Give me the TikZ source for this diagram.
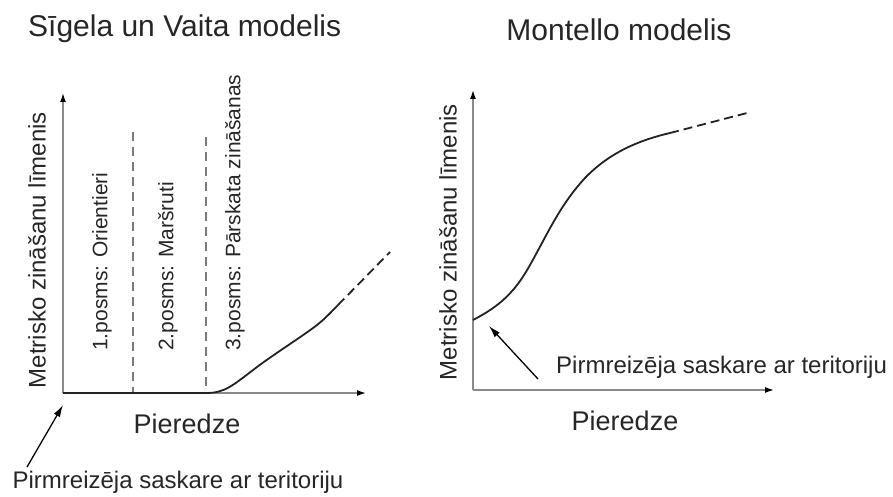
\documentclass[tikz,border=0pt]{standalone}
\usepackage{fontspec}
\setmainfont{Liberation Sans}
\usetikzlibrary{arrows.meta}
\definecolor{txt}{HTML}{262626}
\definecolor{axisgray}{HTML}{8A8A8A}
\definecolor{stagegray}{HTML}{7A7A7A}
\definecolor{curvec}{HTML}{222222}
\begin{document}
\begin{tikzpicture}[x=1pt,y=-1pt,
  titletxt/.style={text=txt,inner sep=0pt,font=\fontsize{30}{32}\selectfont},
  bigtxt/.style={text=txt,inner sep=0pt,font=\fontsize{27}{29}\selectfont},
  lbltxt/.style={text=txt,inner sep=0pt,font=\fontsize{24}{26}\selectfont},
  stagetxt/.style={text=txt,inner sep=0pt,font=\fontsize{21}{23}\selectfont},
  axisline/.style={draw=axisgray,line width=1.4pt,-{Latex[length=9pt,width=6pt,color=black]}},
  stageline/.style={draw=stagegray,line width=1.1pt,dash pattern=on 9pt off 6pt},
  curveline/.style={draw=curvec,line width=1.8pt},
  curvedash/.style={draw=curvec,line width=1.8pt,dash pattern=on 9pt off 5pt},
  pointer/.style={draw=black,line width=1.3pt,-{Latex[length=12pt,width=7pt]}}]
\useasboundingbox (0,0) rectangle (893,497);
% ---------- left: Sigela un Vaita ----------
\node[titletxt,anchor=base west] (t1) at (28,37) {Sīgela un Vaita modelis};
\coordinate (o1) at (63,393);
\coordinate (y1) at (63,93);
\coordinate (x1) at (366,393);
\draw[axisline] (o1) -- (y1);
\draw[axisline] (o1) -- (x1);
\coordinate (d1a) at (133,132);
\coordinate (d1b) at (133,393);
\coordinate (d2a) at (206,137);
\coordinate (d2b) at (206,393);
\draw[stageline] (d1a) -- (d1b);
\draw[stageline] (d2a) -- (d2b);
\node[stagetxt,rotate=90,anchor=west] (s1) at (102,351) {1.posms: Orientieri};
\node[stagetxt,rotate=90,anchor=west] (s2) at (168,351) {2.posms: Maršruti};
\node[stagetxt,rotate=90,anchor=west] (s3) at (235,351) {3.posms: Pārskata zināšanas};
\node[lbltxt,rotate=90] (yl1) at (37,250) {Metrisko zināšanu līmenis};
\node[bigtxt] (xl1) at (187,424) {Pieredze};
\draw[curveline] (o1) -- (206,393)
  .. controls (225,393) and (232,386) .. (257,367)
  .. controls (280,350) and (300,338) .. (317,325)
  .. controls (327,317) and (333,310) .. (338,305);
\draw[curvedash] (338,305) -- (390,252);
\node[lbltxt] (c1) at (178,482) {Pirmreizēja saskare ar teritoriju};
\coordinate (c1s) at (27,467);
\coordinate (c1e) at (63,405);
\draw[pointer] (c1s) -- (c1e);
% ---------- right: Montello ----------
\node[titletxt,anchor=base] (t2) at (619,41) {Montello modelis};
\coordinate (o2) at (473,390);
\coordinate (y2) at (473,90);
\coordinate (x2) at (774,390);
\draw[axisline] (o2) -- (y2);
\draw[axisline] (o2) -- (x2);
\node[lbltxt,rotate=90] (yl2) at (448,242) {Metrisko zināšanu līmenis};
\node[bigtxt] (xl2) at (625,421) {Pieredze};
\draw[curveline] (473,320)
  .. controls (500,306) and (515,292) .. (530,265)
  .. controls (548,233) and (560,205) .. (585,178)
  .. controls (610,152) and (640,140) .. (670,133);
\draw[curvedash] (670,133) -- (747,113);
\node[lbltxt,anchor=west] (c2) at (556,367) {Pirmreizēja saskare ar teritoriju};
\coordinate (c2s) at (538,379);
\coordinate (c2e) at (489,326);
\draw[pointer] (c2s) -- (c2e);
\end{tikzpicture}
\end{document}
